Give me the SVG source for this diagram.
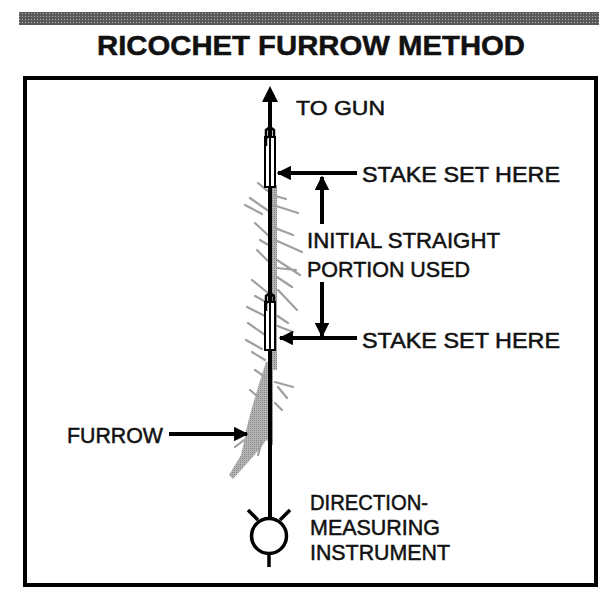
<svg xmlns="http://www.w3.org/2000/svg" width="610" height="595" viewBox="0 0 610 595">
<defs>
<pattern id="dots" width="3" height="3" patternUnits="userSpaceOnUse">
<rect width="3" height="3" fill="#5a5a5a"/>
<rect x="1" y="1" width="1" height="1" fill="#b0b0b0"/>
</pattern>
<pattern id="gr" width="2" height="2" patternUnits="userSpaceOnUse">
<rect width="2" height="2" fill="#b4b4b4"/>
<rect width="1" height="1" fill="#888"/>
</pattern>
<marker id="ah" viewBox="0 0 10 10" refX="9" refY="5" markerWidth="4" markerHeight="3.6" orient="auto" markerUnits="strokeWidth">
<path d="M0,0 L10,5 L0,10 z" fill="#000"/>
</marker>
</defs>
<style>
.t{font-family:"Liberation Sans",Arial,Helvetica,sans-serif;fill:#111;stroke:#111;stroke-width:0.5}
.lbl{font-size:22px}
.ar{stroke:#000;stroke-width:4;fill:none;marker-end:url(#ah)}
.fe{stroke:#a0a0a0;stroke-width:2.2;stroke-linecap:round;fill:none}
</style>
<rect x="0" y="0" width="610" height="595" fill="#fff"/>
<g id="header">
<rect x="19" y="12" width="580" height="13" fill="url(#dots)"/>
<text class="t" x="97" y="55" font-size="28" font-weight="bold" textLength="428" lengthAdjust="spacingAndGlyphs">RICOCHET FURROW METHOD</text>
</g>
<g id="frame">
<rect x="25" y="78" width="571" height="507" fill="none" stroke="#000" stroke-width="4"/>
</g>
<g id="furrow">
<rect x="270" y="185" width="7" height="185" fill="url(#gr)"/>
<path d="M266,362 L273,362 L273,445 L266,440 L262,446 L250,460 L233,479 L229,475 L241,455 L244,442 L247,426 L253,404 L259,384 z" fill="url(#gr)"/>
<path class="fe" d="M258,183 L270,193 M250,198 L270,212 M245,205 L262,214 M255,223 L270,237 M257,250 L270,263 M260,240 L270,246 M252,280 L268,293 M247,307 L267,317 M255,296 L268,303 M248,323 L265,335 M252,352 L265,360 M246,340 L262,349 M255,370 L265,377 M273,205 L298,213 M275,196 L286,199 M275,228 L293,235 M275,240 L302,252 M277,260 L300,275 M277,268 L296,270 M277,277 L292,287 M278,290 L297,310 M273,313 L288,323 M275,325 L293,332 M275,382 L293,387 M278,387 L287,398 M275,403 L282,410 M262,441 L258,455 M244,440 L235,447 M250,390 L257,396"/>
</g>
<g id="connectors">
<line x1="270" y1="517" x2="270" y2="100" stroke="#000" stroke-width="4"/>
<path d="M262,102 L270,86 L278,102 z" fill="#000"/>
<line class="ar" x1="357" y1="173" x2="278" y2="173"/>
<line class="ar" x1="357" y1="338" x2="280" y2="338"/>
<line class="ar" x1="322" y1="224" x2="322" y2="177"/>
<line class="ar" x1="322" y1="282" x2="322" y2="336"/>
<line class="ar" x1="169" y1="434" x2="247" y2="434"/>
</g>
<g id="stake-upper">
<rect x="265" y="137" width="10" height="50" fill="#fff" stroke="#000" stroke-width="2"/>
<line x1="270" y1="137" x2="270" y2="187" stroke="#000" stroke-width="2"/>
<path d="M266,146 L266,130 Q270,126 274,130 L274,137 M266,138 L270,136" fill="none" stroke="#000" stroke-width="2.5"/>
</g>
<g id="stake-lower">
<rect x="265" y="302" width="10" height="48" fill="#fff" stroke="#000" stroke-width="2"/>
<line x1="270" y1="302" x2="270" y2="350" stroke="#000" stroke-width="2"/>
<path d="M266,311 L266,296 Q270,292 274,296 L274,302 M266,303 L270,301" fill="none" stroke="#000" stroke-width="2.5"/>
</g>
<g id="instrument">
<circle cx="269" cy="536" r="17.5" fill="#fff" stroke="#000" stroke-width="3.5"/>
<line x1="248" y1="510" x2="258" y2="520" stroke="#000" stroke-width="3.5"/>
<line x1="290" y1="510" x2="280" y2="520" stroke="#000" stroke-width="3.5"/>
<line x1="269" y1="553" x2="269" y2="567" stroke="#000" stroke-width="3.5"/>
</g>
<g id="labels">
<text class="t" x="296" y="115" font-size="21" textLength="89" lengthAdjust="spacingAndGlyphs">TO GUN</text>
<text class="t lbl" x="362" y="182" textLength="198" lengthAdjust="spacingAndGlyphs">STAKE SET HERE</text>
<text class="t lbl" x="307" y="248" textLength="193" lengthAdjust="spacingAndGlyphs">INITIAL STRAIGHT</text>
<text class="t lbl" x="307" y="277" textLength="163" lengthAdjust="spacingAndGlyphs">PORTION USED</text>
<text class="t lbl" x="362" y="348" textLength="198" lengthAdjust="spacingAndGlyphs">STAKE SET HERE</text>
<text class="t lbl" x="67" y="443" textLength="96" lengthAdjust="spacingAndGlyphs">FURROW</text>
<text class="t lbl" x="310" y="510" textLength="118" lengthAdjust="spacingAndGlyphs">DIRECTION-</text>
<text class="t lbl" x="310" y="535" textLength="130" lengthAdjust="spacingAndGlyphs">MEASURING</text>
<text class="t lbl" x="310" y="560" textLength="140" lengthAdjust="spacingAndGlyphs">INSTRUMENT</text>
</g>
</svg>
